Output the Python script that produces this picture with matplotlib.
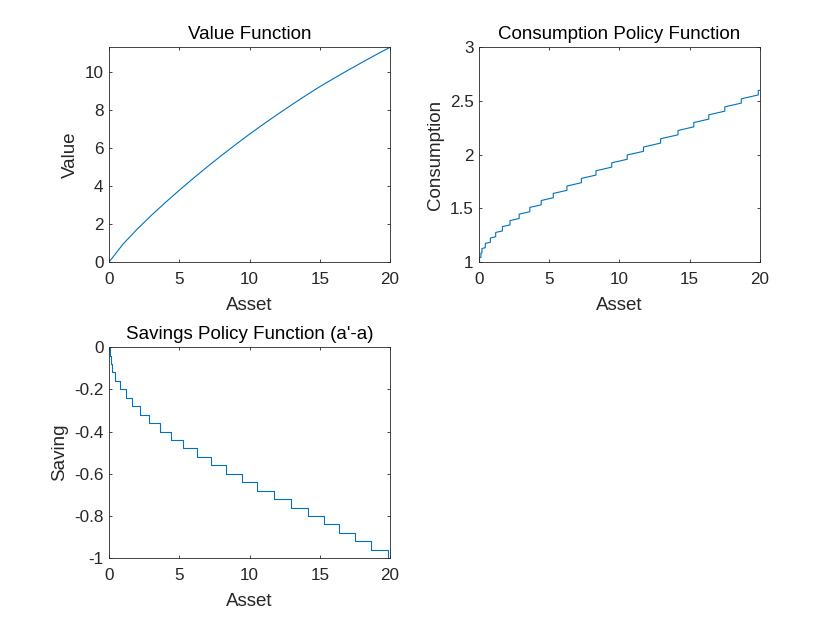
import matplotlib
matplotlib.use("Agg")
import matplotlib.pyplot as plt
from matplotlib.ticker import FuncFormatter

# value function, read at integer asset levels
value_asset = list(range(21))
value = [0.0, 0.95, 1.73, 2.45, 3.13, 3.78, 4.41, 5.02, 5.61, 6.18, 6.735,
         7.265, 7.78, 8.28, 8.765, 9.235, 9.67, 10.095, 10.51, 10.915, 11.31]

# policy steps: asset where each step starts / ends
step_asset = [0, 0.04, 0.14, 0.21, 0.45, 0.81, 1.19, 1.67, 2.21, 2.86, 3.62,
              4.43, 5.29, 6.26, 7.29, 8.33, 9.45, 10.55, 11.71, 12.93, 14.17,
              15.29, 16.36, 17.50, 18.67, 19.88, 20.0]
saving = [0, -0.04, -0.08, -0.12, -0.16, -0.20, -0.24, -0.28, -0.32, -0.36,
          -0.40, -0.44, -0.48, -0.52, -0.56, -0.60, -0.64, -0.68, -0.72,
          -0.76, -0.80, -0.84, -0.88, -0.92, -0.96, -1.00]
cons_start = [1.000, 1.041, 1.084, 1.126, 1.174, 1.224, 1.276, 1.330, 1.386,
              1.446, 1.509, 1.573, 1.639, 1.708, 1.779, 1.850, 1.924, 1.997,
              2.071, 2.148, 2.225, 2.299, 2.371, 2.445, 2.520, 2.596]
cons_end = [1.001, 1.044, 1.086, 1.134, 1.184, 1.236, 1.290, 1.346, 1.406,
            1.469, 1.533, 1.599, 1.668, 1.739, 1.810, 1.884, 1.957, 2.031,
            2.108, 2.185, 2.259, 2.331, 2.405, 2.480, 2.556, 2.600]

x_steps, s_steps, c_steps = [], [], []
for k in range(len(saving)):
    x_steps += [step_asset[k], step_asset[k + 1]]
    s_steps += [saving[k], saving[k]]
    c_steps += [cons_start[k], cons_end[k]]

plt.rcParams['font.family'] = ['Liberation Sans', 'DejaVu Sans']
dark = '#262626'
blue = '#0072BD'

fig = plt.figure(figsize=(8.4, 6.3), dpi=100)
ax1 = fig.add_axes([0.1298, 0.584, 0.3345, 0.341])
ax2 = fig.add_axes([0.5702, 0.584, 0.3345, 0.341])
ax3 = fig.add_axes([0.1298, 0.114, 0.3345, 0.335])

ax1.plot(value_asset, value, color=blue, lw=0.8)
ax1.set_ylim(0, 11.31)
ax1.set_yticks([0, 2, 4, 6, 8, 10])
ax1.set_title('Value Function')
ax1.set_ylabel('Value')

ax2.plot(x_steps, c_steps, color=blue, lw=0.8)
ax2.set_ylim(1, 3)
ax2.set_yticks([1, 1.5, 2, 2.5, 3])
ax2.set_title('Consumption Policy Function')
ax2.set_ylabel('Consumption')

ax3.plot(x_steps, s_steps, color=blue, lw=0.8)
ax3.set_ylim(-1, 0)
ax3.set_yticks([-1, -0.8, -0.6, -0.4, -0.2, 0])
ax3.set_title("Savings Policy Function (a'-a)")
ax3.set_ylabel('Saving')

fmt = FuncFormatter(lambda v, p: ('%g' % v).replace('\u2212', '-'))
for ax in (ax1, ax2, ax3):
    ax.set_xlim(0, 20)
    ax.set_xticks([0, 5, 10, 15, 20])
    ax.set_xlabel('Asset', fontsize=13.5, color=dark, labelpad=7)
    ax.yaxis.label.set_fontsize(13.5)
    ax.yaxis.label.set_color(dark)
    ax.title.set_fontsize(13.5)
    ax.title.set_color('black')
    ax.yaxis.set_major_formatter(fmt)
    ax.xaxis.set_major_formatter(fmt)
    ax.tick_params(direction='in', length=2.2, width=0.6, top=True,
                   right=True, labelsize=12.3, colors=dark, pad=4)
    ax.tick_params(axis='x', pad=7)
    for sp in ax.spines.values():
        sp.set_linewidth(0.6)
        sp.set_color(dark)

fig.savefig('out.png', dpi=100)
